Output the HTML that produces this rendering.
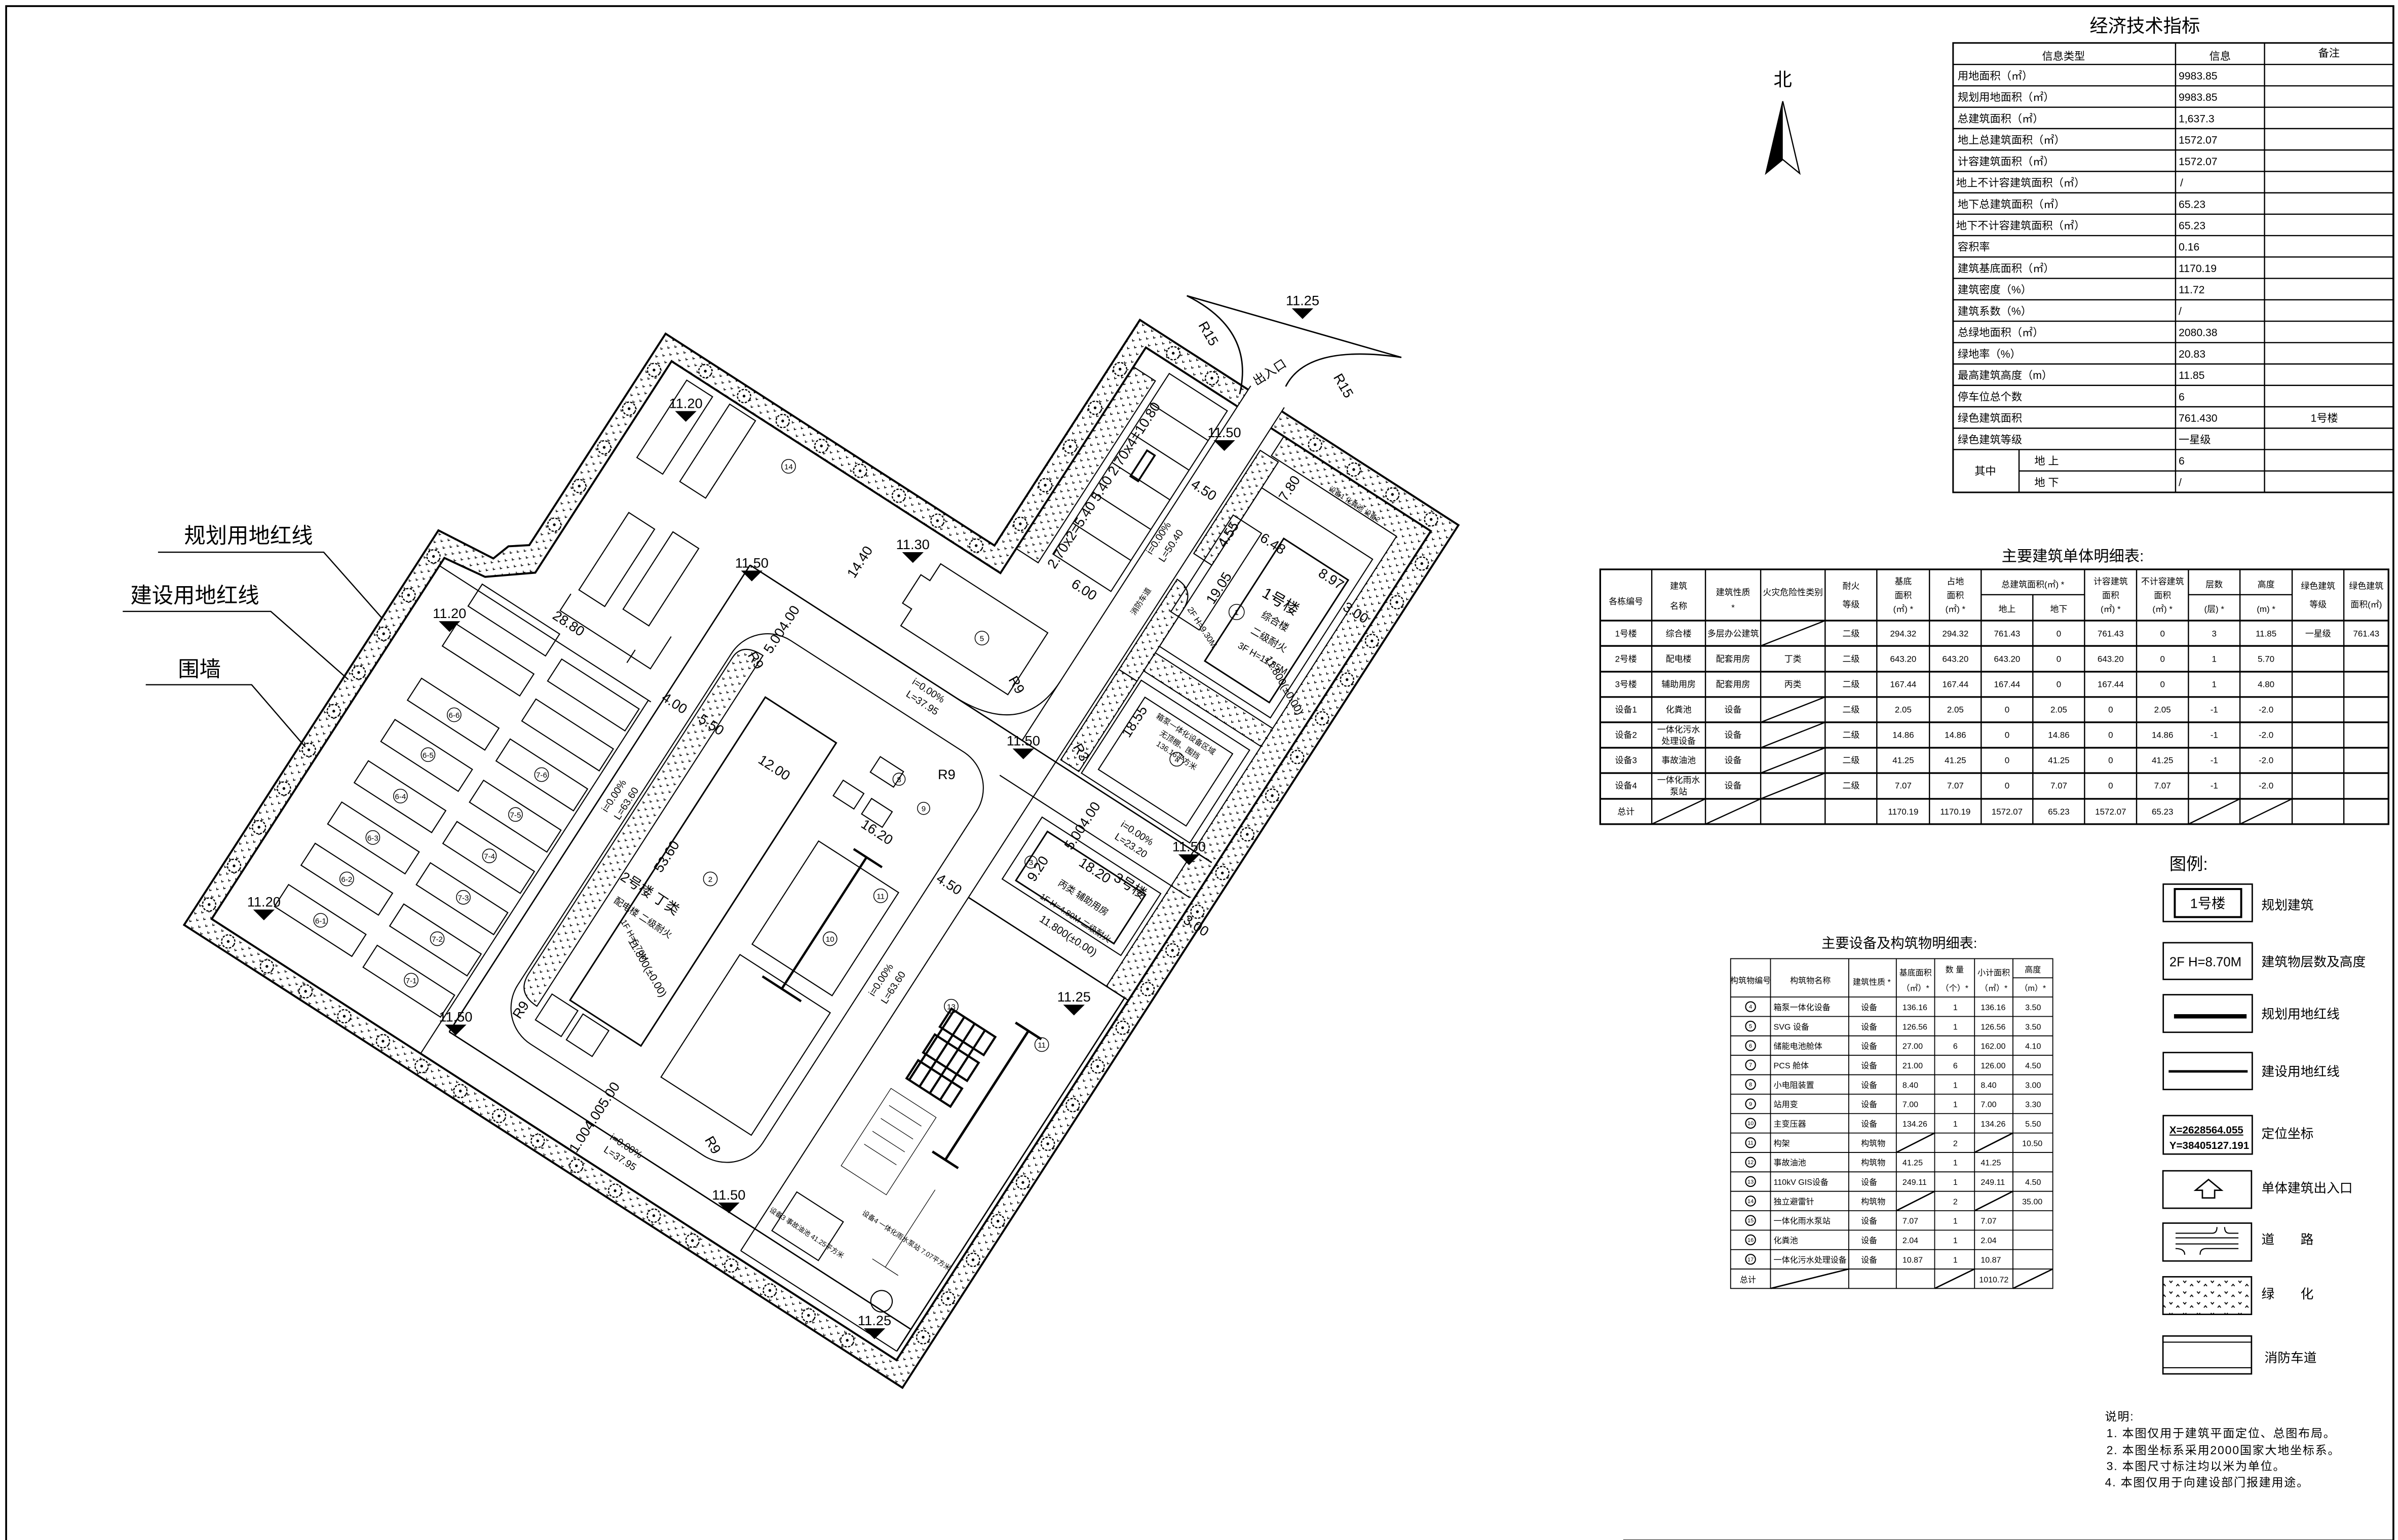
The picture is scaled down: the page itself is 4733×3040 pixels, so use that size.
<!DOCTYPE html>
<html><head><meta charset="utf-8">
<style>
html,body{margin:0;padding:0;background:#fff;}
svg{display:block;}
text{font-family:"Liberation Sans","Noto Sans CJK SC",sans-serif;fill:#000;stroke:none;}
</style></head>
<body>
<svg xmlns="http://www.w3.org/2000/svg" xmlns:xlink="http://www.w3.org/1999/xlink" width="4733" height="3040" viewBox="0 0 1563 1004" preserveAspectRatio="none">
<defs>
<pattern id="h" patternUnits="userSpaceOnUse" width="7" height="6">
<path d="M1.2,1.2 l0.8,1 l0.8,-1 M4.7,4.2 l0.8,1 l0.8,-1" fill="none" stroke="#000" stroke-width="0.5"/>
</pattern>
<pattern id="h2" patternUnits="userSpaceOnUse" width="9" height="7">
<path d="M1,2 l1,1.2 l1,-1.2 M5.5,5.5 l1,-1.2 l1,1.2" fill="none" stroke="#000" stroke-width="0.6"/>
</pattern>
<g id="t"><circle r="4.3" fill="#fff" stroke="#000" stroke-width="0.8" stroke-dasharray="1.5,0.8"/><circle r="0.9" fill="#000" stroke="none"/></g>
</defs>
<rect x="0" y="0" width="1563" height="1004" fill="#fff"/>
<path d="M4,1004 L4,4 L1560,4 L1560,1004" fill="none" stroke="#000" stroke-width="1.2"/>
<line x1="1058" y1="1004.5" x2="1560" y2="1004.5" stroke="#000" stroke-width="1.6"/>

<g transform="matrix(0.8406,0.5417,-0.5417,0.8406,120,603)" fill="none" stroke="#000" stroke-width="0.7">
<path d="M0,0 L0,-306 L40,-310 L44,-322 L55,-330 L55,-494 L310,-494 L310,-669 L557,-669 L557,0 Z M13,-13 L544,-13 L544,-656 L323,-656 L323,-481 L68,-481 L68,-317 L42,-297 L13,-293 Z" fill="url(#h)" fill-rule="evenodd" stroke-width="1.3"/>
<g>
<use xlink:href="#t" x="6.5" y="-20"/><use xlink:href="#t" x="6.5" y="-50"/><use xlink:href="#t" x="6.5" y="-80"/><use xlink:href="#t" x="6.5" y="-110"/><use xlink:href="#t" x="6.5" y="-140"/><use xlink:href="#t" x="6.5" y="-170"/><use xlink:href="#t" x="6.5" y="-200"/><use xlink:href="#t" x="6.5" y="-230"/><use xlink:href="#t" x="6.5" y="-260"/><use xlink:href="#t" x="6.5" y="-290"/>
<use xlink:href="#t" x="61.5" y="-350"/><use xlink:href="#t" x="61.5" y="-380"/><use xlink:href="#t" x="61.5" y="-410"/><use xlink:href="#t" x="61.5" y="-440"/><use xlink:href="#t" x="61.5" y="-470"/>
<use xlink:href="#t" x="90" y="-487.5"/><use xlink:href="#t" x="120" y="-487.5"/><use xlink:href="#t" x="150" y="-487.5"/><use xlink:href="#t" x="180" y="-487.5"/><use xlink:href="#t" x="210" y="-487.5"/><use xlink:href="#t" x="240" y="-487.5"/><use xlink:href="#t" x="270" y="-487.5"/><use xlink:href="#t" x="300" y="-487.5"/>
<use xlink:href="#t" x="316.5" y="-515"/><use xlink:href="#t" x="316.5" y="-545"/><use xlink:href="#t" x="316.5" y="-575"/><use xlink:href="#t" x="316.5" y="-605"/><use xlink:href="#t" x="316.5" y="-635"/>
<use xlink:href="#t" x="340" y="-662.5"/><use xlink:href="#t" x="370" y="-662.5"/><use xlink:href="#t" x="450" y="-662.5"/><use xlink:href="#t" x="480" y="-662.5"/><use xlink:href="#t" x="510" y="-662.5"/><use xlink:href="#t" x="540" y="-662.5"/>
<use xlink:href="#t" x="550.5" y="-635"/><use xlink:href="#t" x="550.5" y="-605"/><use xlink:href="#t" x="550.5" y="-575"/><use xlink:href="#t" x="550.5" y="-545"/><use xlink:href="#t" x="550.5" y="-515"/><use xlink:href="#t" x="550.5" y="-485"/><use xlink:href="#t" x="550.5" y="-455"/><use xlink:href="#t" x="550.5" y="-425"/><use xlink:href="#t" x="550.5" y="-395"/><use xlink:href="#t" x="550.5" y="-365"/><use xlink:href="#t" x="550.5" y="-335"/><use xlink:href="#t" x="550.5" y="-305"/><use xlink:href="#t" x="550.5" y="-275"/><use xlink:href="#t" x="550.5" y="-245"/><use xlink:href="#t" x="550.5" y="-215"/><use xlink:href="#t" x="550.5" y="-185"/><use xlink:href="#t" x="550.5" y="-155"/><use xlink:href="#t" x="550.5" y="-125"/><use xlink:href="#t" x="550.5" y="-95"/><use xlink:href="#t" x="550.5" y="-65"/><use xlink:href="#t" x="550.5" y="-35"/>
<use xlink:href="#t" x="30" y="-6.5"/><use xlink:href="#t" x="60" y="-6.5"/><use xlink:href="#t" x="90" y="-6.5"/><use xlink:href="#t" x="120" y="-6.5"/><use xlink:href="#t" x="150" y="-6.5"/><use xlink:href="#t" x="180" y="-6.5"/><use xlink:href="#t" x="210" y="-6.5"/><use xlink:href="#t" x="240" y="-6.5"/><use xlink:href="#t" x="270" y="-6.5"/><use xlink:href="#t" x="300" y="-6.5"/><use xlink:href="#t" x="330" y="-6.5"/><use xlink:href="#t" x="360" y="-6.5"/><use xlink:href="#t" x="390" y="-6.5"/><use xlink:href="#t" x="420" y="-6.5"/><use xlink:href="#t" x="450" y="-6.5"/><use xlink:href="#t" x="480" y="-6.5"/><use xlink:href="#t" x="510" y="-6.5"/>
</g>
<rect x="394" y="-672" width="26" height="31" fill="#fff" stroke="none"/>
<line x1="394" y1="-672" x2="394" y2="-397"/><line x1="420" y1="-672" x2="420" y2="-18"/>
<path d="M430,-656 L544,-656 L544,-292 L527,-292 L527,-641 L430,-641 Z" fill="url(#h)"/>
<path d="M323,-641 L340,-641 L340,-500 L323,-500 Z" fill="url(#h)"/>
<rect x="345" y="-650" width="45" height="140"/>
<path d="M345,-627 H390 M345,-604 H390 M345,-581 H390 M345,-558 H390 M345,-534 H390"/>
<rect x="360" y="-600" width="6" height="20" stroke-width="1.2"/>
<line x1="13" y1="-287" x2="177" y2="-287"/>
<line x1="175" y1="-13" x2="175" y2="-287"/>
<line x1="183" y1="-35" x2="183" y2="-397" stroke-width="0.9"/>
<line x1="183" y1="-35" x2="541" y2="-35" stroke-width="0.9"/>
<line x1="183" y1="-397" x2="541" y2="-397" stroke-width="0.9"/>
<line x1="394" y1="-370" x2="541" y2="-370"/>
<line x1="541" y1="-18" x2="541" y2="-292" stroke-width="0.9"/>
<line x1="420" y1="-292" x2="541" y2="-292" stroke-width="0.9"/>
<line x1="420" y1="-18" x2="541" y2="-18"/>
<path d="M340,-397 Q394,-397 394,-443"/>
<rect x="204" y="-370" width="190" height="313" rx="28"/>
<path d="M206,-340 Q206,-352 222,-352 L222,-80 Q206,-80 206,-95 Z" fill="url(#h)"/>
<rect x="238" y="-330" width="55" height="235" stroke-width="1"/>
<rect x="226" y="-92" width="20" height="20"/><rect x="250" y="-92" width="20" height="20"/>
<rect x="322" y="-338" width="18" height="12"/>
<rect x="310" y="-312" width="16" height="12"/><rect x="332" y="-312" width="16" height="12"/>
<rect x="318" y="-270" width="62" height="80"/>
<rect x="315" y="-180" width="70" height="95"/>
<path d="M350,-278 V-176 M340,-278 H362 M335,-176 H365" stroke-width="1.5"/>
<path d="M287,-465 H370 V-417 H287 V-430 H280 V-452 H287 Z"/>
<rect x="83" y="-476" width="20" height="60"/><rect x="115" y="-478" width="20" height="60"/>
<rect x="98" y="-383" width="20" height="60"/><rect x="129" y="-388" width="20" height="60"/>
<path d="M95,-318 L95,-305 L165,-305 L165,-330 M150,-310 V-300"/>
<g>
<rect x="43" y="-292" width="60" height="17"/><rect x="43" y="-261" width="60" height="17"/>
<rect x="43" y="-219" width="60" height="17"/><rect x="43" y="-187" width="60" height="17"/>
<rect x="43" y="-155" width="60" height="17"/><rect x="43" y="-123" width="60" height="17"/>
<rect x="43" y="-91" width="60" height="17"/><rect x="43" y="-59" width="60" height="17"/>
<rect x="113" y="-279" width="60" height="17"/><rect x="113" y="-248" width="60" height="17"/>
<rect x="113" y="-217" width="60" height="17"/><rect x="113" y="-185" width="60" height="17"/>
<rect x="113" y="-153" width="60" height="17"/><rect x="113" y="-121" width="60" height="17"/>
<rect x="113" y="-89" width="60" height="17"/><rect x="113" y="-57" width="60" height="17"/>
</g>
<path d="M436,-620 H522 V-497 H436 Z"/>
<path d="M430,-595 H452 V-520 H430 Z"/>
<path d="M466,-600 H516 V-505 H466 Z" stroke-width="1"/>
<path d="M422,-640 H436 V-560 H422 Z" fill="url(#h)"/>
<path d="M422,-540 Q436,-540 436,-525 V-470 H422 Z" fill="url(#h)"/>
<path d="M436,-492 H527 V-478 H436 Z" fill="url(#h)"/>
<rect x="438" y="-472" width="84" height="72"/>
<rect x="446" y="-464" width="68" height="56"/>
<path d="M422,-470 H436 V-400 H422 Z" fill="url(#h)"/>
<rect x="432" y="-362" width="92" height="48"/>
<rect x="440" y="-356" width="76" height="38" stroke-width="1"/>
<g stroke-width="1.4">
<rect x="450" y="-225" width="34" height="14"/><rect x="450" y="-205" width="34" height="14"/><rect x="450" y="-185" width="34" height="14"/>
<path d="M452,-225 V-171 M460,-225 V-171 M468,-225 V-171 M476,-225 V-171"/>
</g>
<path d="M445,-160 H480 V-100 H445 Z M450,-150 H475 M450,-140 H475 M450,-130 H475 M450,-120 H475" stroke-width="0.4"/>
<path d="M500,-240 V-140 M490,-240 H510 M490,-140 H510" stroke-width="1.6"/>
<path d="M505,-120 V-60 M495,-60 H515" stroke-width="0.4"/>
<rect x="430" y="-70" width="36" height="30"/>
<circle cx="515" cy="-40" r="7"/>
</g>

<g fill="none" stroke="#000" stroke-width="0.9">
<path d="M773.6,192.8 Q818,215 808,257"/>
<path d="M913.4,233 Q852,224 838,252"/>
<line x1="773.6" y1="192.8" x2="913.4" y2="233"/>
</g>
<text x="829" y="245" font-size="8" transform="rotate(-33 829 245)" text-anchor="middle">出入口</text>
<text x="785" y="219" font-size="9" transform="rotate(60 785 219)" text-anchor="middle">R15</text>
<text x="873" y="253" font-size="9" transform="rotate(60 873 253)" text-anchor="middle">R15</text>

<g font-size="9" text-anchor="middle">
<g transform="translate(447,268)"><text y="-2">11.20</text><path d="M-7,0 L7,0 L0,7Z"/></g>
<g transform="translate(293,405)"><text y="-2">11.20</text><path d="M-7,0 L7,0 L0,7Z"/></g>
<g transform="translate(172,593)"><text y="-2">11.20</text><path d="M-7,0 L7,0 L0,7Z"/></g>
<g transform="translate(490,372)"><text y="-2">11.50</text><path d="M-7,0 L7,0 L0,7Z"/></g>
<g transform="translate(297,668)"><text y="-2">11.50</text><path d="M-7,0 L7,0 L0,7Z"/></g>
<g transform="translate(475,784)"><text y="-2">11.50</text><path d="M-7,0 L7,0 L0,7Z"/></g>
<g transform="translate(667,488)"><text y="-2">11.50</text><path d="M-7,0 L7,0 L0,7Z"/></g>
<g transform="translate(798,287)"><text y="-2">11.50</text><path d="M-7,0 L7,0 L0,7Z"/></g>
<g transform="translate(775,557)"><text y="-2">11.50</text><path d="M-7,0 L7,0 L0,7Z"/></g>
<g transform="translate(595,360)"><text y="-2">11.30</text><path d="M-7,0 L7,0 L0,7Z"/></g>
<g transform="translate(849,201)"><text y="-2">11.25</text><path d="M-7,0 L7,0 L0,7Z"/></g>
<g transform="translate(700,655)"><text y="-2">11.25</text><path d="M-7,0 L7,0 L0,7Z"/></g>
<g transform="translate(570,866)"><text y="-2">11.25</text><path d="M-7,0 L7,0 L0,7Z"/></g>
</g>

<g font-size="9" text-anchor="middle">
<text transform="translate(369,409) rotate(33)">28.80</text>
<text transform="translate(438,461) rotate(33)">4.00</text>
<text transform="translate(462,475) rotate(33)">5.50</text>
<text transform="translate(503,503) rotate(33)">12.00</text>
<text transform="translate(570,545) rotate(33)">16.20</text>
<text transform="translate(617,579) rotate(33)">4.50</text>
<text transform="translate(828,357) rotate(33)">6.48</text>
<text transform="translate(866,380) rotate(33)">8.97</text>
<text transform="translate(712,570) rotate(33)">18.20</text>
<text transform="translate(783,322) rotate(33)">4.50</text>
<text transform="translate(705,387) rotate(33)">6.00</text>
<text transform="translate(882,402) rotate(33)">3.00</text>
<text transform="translate(778,606) rotate(33)">3.00</text>
<text transform="translate(563,368) rotate(-57)">14.40</text>
<text transform="translate(437,560) rotate(-57)">53.60</text>
<text transform="translate(797,385) rotate(-57)">19.05</text>
<text transform="translate(742,472) rotate(-57)">18.55</text>
<text transform="translate(679,568) rotate(-57)">9.20</text>
<text transform="translate(803,350) rotate(-57)">4.55</text>
<text transform="translate(843,320) rotate(-57)">7.80</text>
<text transform="translate(512,412) rotate(-57)">5.004.00</text>
<text transform="translate(708,540) rotate(-57)">5.004.00</text>
<text transform="translate(390,730) rotate(-57)">1.004.005.00</text>
<text transform="translate(722,318) rotate(-57)">2.70x2=5.40 5.40 2.70x4=10.80</text>
<text transform="translate(617,508)">R9</text>
<text transform="translate(490,432) rotate(60)">R9</text>
<text transform="translate(342,660) rotate(-57)">R9</text>
<text transform="translate(462,748) rotate(60)">R9</text>
<text transform="translate(660,448) rotate(60)">R9</text>
<text transform="translate(702,492) rotate(60)">R3</text>
</g>
<g font-size="6.5" text-anchor="middle">
<text transform="translate(604,452) rotate(33)">i=0.00%</text><text transform="translate(600,460) rotate(33)">L=37.95</text>
<text transform="translate(407,749) rotate(33)">i=0.00%</text><text transform="translate(403,757) rotate(33)">L=37.95</text>
<text transform="translate(740,545) rotate(33)">i=0.00%</text><text transform="translate(736,553) rotate(33)">L=23.20</text>
<text transform="translate(576,640) rotate(-57)">i=0.00%</text><text transform="translate(584,645) rotate(-57)">L=63.60</text>
<text transform="translate(402,520) rotate(-57)">i=0.00%</text><text transform="translate(410,525) rotate(-57)">L=63.60</text>
<text transform="translate(757,352) rotate(-57)">i=0.00%</text><text transform="translate(765,357) rotate(-57)">L=50.40</text>
<text transform="translate(745,393) rotate(-57)" font-size="5">消防车道</text>
</g>
<g text-anchor="middle">
<text transform="translate(833,395) rotate(30)" font-size="10">1号楼</text>
<text transform="translate(830,407) rotate(30)" font-size="6.5">综合楼</text>
<text transform="translate(826,419) rotate(30)" font-size="6.5">二级耐火</text>
<text transform="translate(822,431) rotate(30)" font-size="6">3F H=11.85M</text>
<text transform="translate(835,448) rotate(60)" font-size="7">11.800(±0.00)</text>
<text transform="translate(782,410) rotate(57)" font-size="5.5">2F H=9.30M</text>
<text transform="translate(422,585) rotate(33)" font-size="9">2号楼 丁类</text>
<text transform="translate(418,600) rotate(33)" font-size="6">配电楼 二级耐火</text>
<text transform="translate(412,614) rotate(60)" font-size="5.5">1F H=5.70M</text>
<text transform="translate(420,632) rotate(60)" font-size="7">11.800(±0.00)</text>
<text transform="translate(735,580) rotate(33)" font-size="9">3号楼</text>
<text transform="translate(705,587) rotate(33)" font-size="6">丙类 辅助用房</text>
<text transform="translate(700,600) rotate(33)" font-size="5.5">1F H=4.80M 二级耐火</text>
<text transform="translate(695,612) rotate(33)" font-size="7">11.800(±0.00)</text>
<text transform="translate(772,480) rotate(33)" font-size="5">箱泵一体化设备区域</text>
<text transform="translate(768,487) rotate(33)" font-size="5">无顶棚、围挡</text>
<text transform="translate(766,494) rotate(33)" font-size="5">136.16平方米</text>
<text transform="translate(525,805) rotate(33)" font-size="4.5">设备3 事故油池 41.25平方米</text>
<text transform="translate(590,810) rotate(33)" font-size="4.5">设备4 一体化雨水泵站 7.07平方米</text>
<text transform="translate(882,330) rotate(33)" font-size="4.5">设备1 化粪池 设备2</text>
</g>
<g font-size="5" text-anchor="middle">
<g fill="none" stroke="#000" stroke-width="0.5">
<circle cx="296" cy="466" r="4.5"/><circle cx="279" cy="492" r="4.5"/><circle cx="261" cy="519" r="4.5"/><circle cx="243" cy="546" r="4.5"/><circle cx="226" cy="573" r="4.5"/><circle cx="209" cy="600" r="4.5"/>
<circle cx="353" cy="505" r="4.5"/><circle cx="336" cy="531" r="4.5"/><circle cx="319" cy="558" r="4.5"/><circle cx="302" cy="585" r="4.5"/><circle cx="285" cy="612" r="4.5"/><circle cx="268" cy="639" r="4.5"/>
<circle cx="640" cy="416" r="4.5"/><circle cx="463" cy="573" r="4.5"/><circle cx="541" cy="612" r="4.5"/><circle cx="586" cy="508" r="4"/><circle cx="602" cy="527" r="4"/>
<circle cx="767" cy="495" r="4.5"/><circle cx="806" cy="399" r="5"/><circle cx="672" cy="562" r="4"/><circle cx="620" cy="656" r="4.5"/><circle cx="679" cy="681" r="4.5"/><circle cx="574" cy="584" r="4.5"/><circle cx="514" cy="304" r="4.5"/>
</g>
<text x="296" y="468">6-6</text><text x="279" y="494">6-5</text><text x="261" y="521">6-4</text><text x="243" y="548">6-3</text><text x="226" y="575">6-2</text><text x="209" y="602">6-1</text>
<text x="353" y="507">7-6</text><text x="336" y="533">7-5</text><text x="319" y="560">7-4</text><text x="302" y="587">7-3</text><text x="285" y="614">7-2</text><text x="268" y="641">7-1</text>
<text x="640" y="418">5</text><text x="463" y="575">2</text><text x="541" y="614">10</text><text x="586" y="510">8</text><text x="602" y="529">9</text>
<text x="767" y="497">4</text><text x="806" y="401">1</text><text x="672" y="564">3</text><text x="620" y="658">13</text><text x="679" y="683">11</text><text x="574" y="586">11</text><text x="514" y="306">14</text>
</g>

<g font-size="14">
<text x="120" y="354">规划用地红线</text>
<text x="85" y="393">建设用地红线</text>
<text x="116" y="441">围墙</text>
</g>
<g stroke="#000" stroke-width="0.8" fill="none">
<path d="M103,360 H211 L249,403"/>
<path d="M80,398.6 H176.5 L227,443"/>
<path d="M95,446.4 H164 L199,487"/>
</g>

<text x="1162" y="56" font-size="12" text-anchor="middle">北</text>
<path d="M1162,66 L1173,113 L1162,104 L1151,113 Z" fill="none" stroke="#000" stroke-width="0.8"/>
<path d="M1162,66 L1162,104 L1151,113 Z" fill="#000"/>

<text x="1398" y="21" font-size="12" text-anchor="middle">经济技术指标</text>
<g stroke="#000" fill="none" stroke-width="0.8">
<rect x="1273" y="28" width="287" height="293" stroke-width="1"/>
<path d="M1418,28 V321 M1476,28 V321 M1316,293.1 V321
M1273,42 H1560 M1273,55.95 H1560 M1273,69.9 H1560 M1273,83.85 H1560 M1273,97.8 H1560 M1273,111.75 H1560 M1273,125.7 H1560 M1273,139.65 H1560 M1273,153.6 H1560 M1273,167.55 H1560 M1273,181.5 H1560 M1273,195.45 H1560 M1273,209.4 H1560 M1273,223.35 H1560 M1273,237.3 H1560 M1273,251.25 H1560 M1273,265.2 H1560 M1273,279.15 H1560 M1273,293.1 H1560 M1316,307.05 H1560"/>
</g>
<g font-size="7">
<text x="1345" y="39" text-anchor="middle">信息类型</text><text x="1447" y="39" text-anchor="middle">信息</text><text x="1518" y="37" text-anchor="middle">备注</text>
<text x="1276" y="51.8">用地面积（㎡）</text><text x="1420" y="51.8">9983.85</text>
<text x="1276" y="65.75">规划用地面积（㎡）</text><text x="1420" y="65.75">9983.85</text>
<text x="1276" y="79.7">总建筑面积（㎡）</text><text x="1420" y="79.7">1,637.3</text>
<text x="1276" y="93.65">地上总建筑面积（㎡）</text><text x="1420" y="93.65">1572.07</text>
<text x="1276" y="107.6">计容建筑面积（㎡）</text><text x="1420" y="107.6">1572.07</text>
<text x="1275" y="121.55">地上不计容建筑面积（㎡）</text><text x="1421" y="121.55">/</text>
<text x="1276" y="135.5">地下总建筑面积（㎡）</text><text x="1420" y="135.5">65.23</text>
<text x="1275" y="149.45">地下不计容建筑面积（㎡）</text><text x="1420" y="149.45">65.23</text>
<text x="1276" y="163.4">容积率</text><text x="1420" y="163.4">0.16</text>
<text x="1276" y="177.35">建筑基底面积（㎡）</text><text x="1420" y="177.35">1170.19</text>
<text x="1276" y="191.3">建筑密度（%）</text><text x="1420" y="191.3">11.72</text>
<text x="1276" y="205.25">建筑系数（%）</text><text x="1420" y="205.25">/</text>
<text x="1276" y="219.2">总绿地面积（㎡）</text><text x="1420" y="219.2">2080.38</text>
<text x="1276" y="233.15">绿地率（%）</text><text x="1420" y="233.15">20.83</text>
<text x="1276" y="247.1">最高建筑高度（m）</text><text x="1420" y="247.1">11.85</text>
<text x="1276" y="261.05">停车位总个数</text><text x="1420" y="261.05">6</text>
<text x="1276" y="275">绿色建筑面积</text><text x="1420" y="275">761.430</text><text x="1515" y="275" text-anchor="middle">1号楼</text>
<text x="1276" y="288.95">绿色建筑等级</text><text x="1420" y="288.95">一星级</text>
<text x="1294" y="309.5" text-anchor="middle">其中</text>
<text x="1326" y="302.9">地 上</text><text x="1420" y="302.9">6</text>
<text x="1326" y="316.85">地 下</text><text x="1420" y="316.85">/</text>
</g>

<text x="1351" y="366" font-size="10" text-anchor="middle">主要建筑单体明细表:</text>
<g stroke="#000" fill="none" stroke-width="0.8">
<rect x="1043" y="371.2" width="513.8" height="166.1" stroke-width="1.1"/>
<path d="M1076.6,371.2 V537.3 M1111.6,371.2 V537.3 M1147.6,371.2 V537.3 M1189.6,371.2 V537.3 M1223.3,371.2 V537.3 M1257.6,371.2 V537.3 M1291.3,371.2 V537.3 M1325,387.7 V537.3 M1358.7,371.2 V537.3 M1392.6,371.2 V537.3 M1426.4,371.2 V537.3 M1460,371.2 V537.3 M1494,371.2 V537.3 M1527.7,371.2 V537.3
M1291.3,387.7 H1358.7 M1426.4,387.7 H1494"/>
<path d="M1043,404.6 H1556.8 M1043,421.1 H1556.8 M1043,437.9 H1556.8 M1043,454.4 H1556.8 M1043,470.9 H1556.8 M1043,487.5 H1556.8 M1043,504 H1556.8 M1043,520.8 H1556.8" stroke-width="1.1"/>
<path d="M1147.6,421.1 L1189.6,404.6 M1147.6,470.9 L1189.6,454.4 M1147.6,487.5 L1189.6,470.9 M1147.6,504 L1189.6,487.5 M1147.6,520.8 L1189.6,504 M1076.6,537.3 L1111.6,520.8 M1111.6,537.3 L1147.6,520.8 M1426.4,537.3 L1460,520.8 M1460,537.3 L1494,520.8"/>
</g>
<g font-size="5.6" text-anchor="middle">
<text x="1059.8" y="394">各栋编号</text>
<text x="1094.1" y="384">建筑</text><text x="1094.1" y="397">名称</text>
<text x="1129.6" y="388">建筑性质</text><text x="1129.6" y="398">*</text>
<text x="1168.6" y="388">火灾危险性类别</text>
<text x="1206.5" y="384">耐火</text><text x="1206.5" y="396">等级</text>
<text x="1240.5" y="381">基底</text><text x="1240.5" y="390">面积</text><text x="1240.5" y="399">(㎡) *</text>
<text x="1274.5" y="381">占地</text><text x="1274.5" y="390">面积</text><text x="1274.5" y="399">(㎡) *</text>
<text x="1325" y="383">总建筑面积(㎡) *</text><text x="1308.2" y="399">地上</text><text x="1341.9" y="399">地下</text>
<text x="1375.7" y="381">计容建筑</text><text x="1375.7" y="390">面积</text><text x="1375.7" y="399">(㎡) *</text>
<text x="1409.5" y="381">不计容建筑</text><text x="1409.5" y="390">面积</text><text x="1409.5" y="399">(㎡) *</text>
<text x="1443.2" y="383">层数</text><text x="1443.2" y="399">(层) *</text>
<text x="1477" y="383">高度</text><text x="1477" y="399">(m) *</text>
<text x="1510.9" y="384">绿色建筑</text><text x="1510.9" y="396">等级</text>
<text x="1542.3" y="384">绿色建筑</text><text x="1542.3" y="396">面积(㎡)</text>
<text x="1059.8" y="415">1号楼</text><text x="1094.1" y="415">综合楼</text><text x="1129.6" y="415">多层办公建筑</text><text x="1206.5" y="415">二级</text><text x="1240.5" y="415">294.32</text><text x="1274.5" y="415">294.32</text><text x="1308.2" y="415">761.43</text><text x="1341.9" y="415">0</text><text x="1375.7" y="415">761.43</text><text x="1409.5" y="415">0</text><text x="1443.2" y="415">3</text><text x="1477" y="415">11.85</text><text x="1510.9" y="415">一星级</text><text x="1542.3" y="415">761.43</text>
<text x="1059.8" y="431.5">2号楼</text><text x="1094.1" y="431.5">配电楼</text><text x="1129.6" y="431.5">配套用房</text><text x="1168.6" y="431.5">丁类</text><text x="1206.5" y="431.5">二级</text><text x="1240.5" y="431.5">643.20</text><text x="1274.5" y="431.5">643.20</text><text x="1308.2" y="431.5">643.20</text><text x="1341.9" y="431.5">0</text><text x="1375.7" y="431.5">643.20</text><text x="1409.5" y="431.5">0</text><text x="1443.2" y="431.5">1</text><text x="1477" y="431.5">5.70</text>
<text x="1059.8" y="448">3号楼</text><text x="1094.1" y="448">辅助用房</text><text x="1129.6" y="448">配套用房</text><text x="1168.6" y="448">丙类</text><text x="1206.5" y="448">二级</text><text x="1240.5" y="448">167.44</text><text x="1274.5" y="448">167.44</text><text x="1308.2" y="448">167.44</text><text x="1341.9" y="448">0</text><text x="1375.7" y="448">167.44</text><text x="1409.5" y="448">0</text><text x="1443.2" y="448">1</text><text x="1477" y="448">4.80</text>
<text x="1059.8" y="464.5">设备1</text><text x="1094.1" y="464.5">化粪池</text><text x="1129.6" y="464.5">设备</text><text x="1206.5" y="464.5">二级</text><text x="1240.5" y="464.5">2.05</text><text x="1274.5" y="464.5">2.05</text><text x="1308.2" y="464.5">0</text><text x="1341.9" y="464.5">2.05</text><text x="1375.7" y="464.5">0</text><text x="1409.5" y="464.5">2.05</text><text x="1443.2" y="464.5">-1</text><text x="1477" y="464.5">-2.0</text>
<text x="1059.8" y="481">设备2</text><text x="1094.1" y="477.5">一体化污水</text><text x="1094.1" y="485">处理设备</text><text x="1129.6" y="481">设备</text><text x="1206.5" y="481">二级</text><text x="1240.5" y="481">14.86</text><text x="1274.5" y="481">14.86</text><text x="1308.2" y="481">0</text><text x="1341.9" y="481">14.86</text><text x="1375.7" y="481">0</text><text x="1409.5" y="481">14.86</text><text x="1443.2" y="481">-1</text><text x="1477" y="481">-2.0</text>
<text x="1059.8" y="497.5">设备3</text><text x="1094.1" y="497.5">事故油池</text><text x="1129.6" y="497.5">设备</text><text x="1206.5" y="497.5">二级</text><text x="1240.5" y="497.5">41.25</text><text x="1274.5" y="497.5">41.25</text><text x="1308.2" y="497.5">0</text><text x="1341.9" y="497.5">41.25</text><text x="1375.7" y="497.5">0</text><text x="1409.5" y="497.5">41.25</text><text x="1443.2" y="497.5">-1</text><text x="1477" y="497.5">-2.0</text>
<text x="1059.8" y="514">设备4</text><text x="1094.1" y="510.5">一体化雨水</text><text x="1094.1" y="518">泵站</text><text x="1129.6" y="514">设备</text><text x="1206.5" y="514">二级</text><text x="1240.5" y="514">7.07</text><text x="1274.5" y="514">7.07</text><text x="1308.2" y="514">0</text><text x="1341.9" y="514">7.07</text><text x="1375.7" y="514">0</text><text x="1409.5" y="514">7.07</text><text x="1443.2" y="514">-1</text><text x="1477" y="514">-2.0</text>
<text x="1059.8" y="531">总计</text><text x="1240.5" y="531">1170.19</text><text x="1274.5" y="531">1170.19</text><text x="1308.2" y="531">1572.07</text><text x="1341.9" y="531">65.23</text><text x="1375.7" y="531">1572.07</text><text x="1409.5" y="531">65.23</text>
</g>

<text x="1238" y="618" font-size="9" text-anchor="middle">主要设备及构筑物明细表:</text>
<g stroke="#000" fill="none" stroke-width="0.6">
<rect x="1128" y="625" width="210" height="215"/>
<path d="M1154,625 V840 M1205,625 V840 M1236,625 V840 M1261,625 V840 M1287,625 V840 M1312,625 V840 M1312,637.5 H1338" />
<path d="M1128,650 H1338 M1128,662.67 H1338 M1128,675.33 H1338 M1128,688 H1338 M1128,700.67 H1338 M1128,713.33 H1338 M1128,726 H1338 M1128,738.67 H1338 M1128,751.33 H1338 M1128,764 H1338 M1128,776.67 H1338 M1128,789.33 H1338 M1128,802 H1338 M1128,814.67 H1338 M1128,827.33 H1338"/>
<path d="M1236,751.33 L1261,738.67 M1287,751.33 L1312,738.67 M1236,789.33 L1261,776.67 M1287,789.33 L1312,776.67 M1154,840 L1205,827.33 M1261,840 L1287,827.33 M1312,840 L1338,827.33" stroke-width="0.9"/>
<g stroke-width="0.7">
<circle cx="1141" cy="656.3" r="3.2"/><circle cx="1141" cy="669" r="3.2"/><circle cx="1141" cy="681.7" r="3.2"/><circle cx="1141" cy="694.3" r="3.2"/><circle cx="1141" cy="707" r="3.2"/><circle cx="1141" cy="719.7" r="3.2"/><circle cx="1141" cy="732.3" r="3.2"/><circle cx="1141" cy="745" r="3.2"/><circle cx="1141" cy="757.7" r="3.2"/><circle cx="1141" cy="770.3" r="3.2"/><circle cx="1141" cy="783" r="3.2"/><circle cx="1141" cy="795.7" r="3.2"/><circle cx="1141" cy="808.3" r="3.2"/><circle cx="1141" cy="821" r="3.2"/>
</g>
</g>
<g font-size="5.3">
<g text-anchor="middle">
<text x="1141" y="641">构筑物编号</text><text x="1180" y="641">构筑物名称</text><text x="1220" y="642">建筑性质 *</text>
<text x="1248.5" y="636">基底面积</text><text x="1248.5" y="646">（㎡）*</text>
<text x="1274" y="634">数 量</text><text x="1274" y="646">（个）*</text>
<text x="1299.5" y="636">小计面积</text><text x="1299.5" y="646">（㎡）*</text>
<text x="1325" y="634">高度</text><text x="1325" y="646">（m）*</text>
<g font-size="3.6"><text x="1141" y="657.6">4</text><text x="1141" y="670.3">5</text><text x="1141" y="683">6</text><text x="1141" y="695.6">7</text><text x="1141" y="708.3">8</text><text x="1141" y="721">9</text><text x="1141" y="733.6">10</text><text x="1141" y="746.3">11</text><text x="1141" y="759">12</text><text x="1141" y="771.6">13</text><text x="1141" y="784.3">14</text><text x="1141" y="797">15</text><text x="1141" y="809.6">16</text><text x="1141" y="822.3">17</text></g>
</g>
<text x="1156" y="658.5">箱泵一体化设备</text><text x="1213" y="658.5">设备</text><text x="1240" y="658.5">136.16</text><text x="1273" y="658.5">1</text><text x="1291" y="658.5">136.16</text><text x="1320" y="658.5">3.50</text>
<text x="1156" y="671.2">SVG 设备</text><text x="1213" y="671.2">设备</text><text x="1240" y="671.2">126.56</text><text x="1273" y="671.2">1</text><text x="1291" y="671.2">126.56</text><text x="1320" y="671.2">3.50</text>
<text x="1156" y="683.8">储能电池舱体</text><text x="1213" y="683.8">设备</text><text x="1240" y="683.8">27.00</text><text x="1273" y="683.8">6</text><text x="1291" y="683.8">162.00</text><text x="1320" y="683.8">4.10</text>
<text x="1156" y="696.5">PCS 舱体</text><text x="1213" y="696.5">设备</text><text x="1240" y="696.5">21.00</text><text x="1273" y="696.5">6</text><text x="1291" y="696.5">126.00</text><text x="1320" y="696.5">4.50</text>
<text x="1156" y="709.2">小电阻装置</text><text x="1213" y="709.2">设备</text><text x="1240" y="709.2">8.40</text><text x="1273" y="709.2">1</text><text x="1291" y="709.2">8.40</text><text x="1320" y="709.2">3.00</text>
<text x="1156" y="721.8">站用变</text><text x="1213" y="721.8">设备</text><text x="1240" y="721.8">7.00</text><text x="1273" y="721.8">1</text><text x="1291" y="721.8">7.00</text><text x="1320" y="721.8">3.30</text>
<text x="1156" y="734.5">主变压器</text><text x="1213" y="734.5">设备</text><text x="1240" y="734.5">134.26</text><text x="1273" y="734.5">1</text><text x="1291" y="734.5">134.26</text><text x="1320" y="734.5">5.50</text>
<text x="1156" y="747.2">构架</text><text x="1213" y="747.2">构筑物</text><text x="1273" y="747.2">2</text><text x="1318" y="747.2">10.50</text>
<text x="1156" y="759.8">事故油池</text><text x="1213" y="759.8">构筑物</text><text x="1240" y="759.8">41.25</text><text x="1273" y="759.8">1</text><text x="1291" y="759.8">41.25</text>
<text x="1156" y="772.5">110kV GIS设备</text><text x="1213" y="772.5">设备</text><text x="1240" y="772.5">249.11</text><text x="1273" y="772.5">1</text><text x="1291" y="772.5">249.11</text><text x="1320" y="772.5">4.50</text>
<text x="1156" y="785.2">独立避雷针</text><text x="1213" y="785.2">构筑物</text><text x="1273" y="785.2">2</text><text x="1318" y="785.2">35.00</text>
<text x="1156" y="797.8">一体化雨水泵站</text><text x="1213" y="797.8">设备</text><text x="1240" y="797.8">7.07</text><text x="1273" y="797.8">1</text><text x="1291" y="797.8">7.07</text>
<text x="1156" y="810.5">化粪池</text><text x="1213" y="810.5">设备</text><text x="1240" y="810.5">2.04</text><text x="1273" y="810.5">1</text><text x="1291" y="810.5">2.04</text>
<text x="1156" y="823.2">一体化污水处理设备</text><text x="1213" y="823.2">设备</text><text x="1240" y="823.2">10.87</text><text x="1273" y="823.2">1</text><text x="1291" y="823.2">10.87</text>
<text x="1134" y="836">总计</text><text x="1290" y="836">1010.72</text>
</g>

<text x="1414" y="567" font-size="11">图例:</text>
<g stroke="#000" fill="none" stroke-width="0.9">
<rect x="1410" y="576.4" width="58" height="24.4"/>
<rect x="1417.5" y="579.6" width="43.3" height="18.3" stroke-width="1.3"/>
<rect x="1410" y="614.6" width="58" height="23.9"/>
<rect x="1410" y="648.5" width="58" height="24.5"/>
<line x1="1417" y1="662.6" x2="1464.3" y2="662.6" stroke-width="2.8"/>
<rect x="1410" y="686.2" width="58" height="24.1"/>
<line x1="1413.5" y1="698.5" x2="1465" y2="698.5" stroke-width="1.6"/>
<rect x="1410" y="727.3" width="58" height="25.1"/>
<rect x="1409.8" y="763.3" width="57.7" height="24.4"/>
<path d="M1431,776 L1439.5,769 L1448,776 L1443.5,776 L1443.5,781 L1435.5,781 L1435.5,776 Z"/>
<rect x="1409.8" y="797.4" width="57.7" height="24.7"/>
<path d="M1418,804 H1442 Q1445,804 1445,800 M1450,800 Q1450,804 1453,804 H1459 M1418,807 H1459 M1418,811 H1459 M1418,814 Q1424,814 1424,818 M1434,818 Q1434,814 1438,814 H1459" stroke-width="0.7"/>
<rect x="1409.8" y="832.4" width="57.7" height="24.5" fill="url(#h2)"/>
<rect x="1409.8" y="871" width="57.7" height="24.7"/>
<path d="M1409.8,875 H1467.5 M1409.8,891.7 H1467.5" stroke-width="0.7"/>
</g>
<g font-size="8.5">
<text x="1439" y="592" text-anchor="middle" font-size="9">1号楼</text>
<text x="1414" y="630" font-size="8.5" font-family="Liberation Serif">2F H=8.70M</text>
<text x="1414" y="739" font-size="6.8" font-weight="bold" text-decoration="underline">X=2628564.055</text>
<text x="1414" y="749" font-size="6.8" font-weight="bold">Y=38405127.191</text>
<text x="1474" y="593">规划建筑</text>
<text x="1474" y="630">建筑物层数及高度</text>
<text x="1474" y="664">规划用地红线</text>
<text x="1474" y="701.5">建设用地红线</text>
<text x="1474" y="742">定位坐标</text>
<text x="1474" y="777.5">单体建筑出入口</text>
<text x="1474" y="811">道　　路</text>
<text x="1474" y="846.5">绿　　化</text>
<text x="1476" y="888">消防车道</text>
</g>
<g font-size="7.6" letter-spacing="0.6">
<text x="1372" y="926">说明:</text>
<text x="1373" y="937">1. 本图仅用于建筑平面定位、总图布局。</text>
<text x="1373" y="948">2. 本图坐标系采用2000国家大地坐标系。</text>
<text x="1373" y="958.5">3. 本图尺寸标注均以米为单位。</text>
<text x="1372" y="969">4. 本图仅用于向建设部门报建用途。</text>
</g>
</svg>
</body></html>
